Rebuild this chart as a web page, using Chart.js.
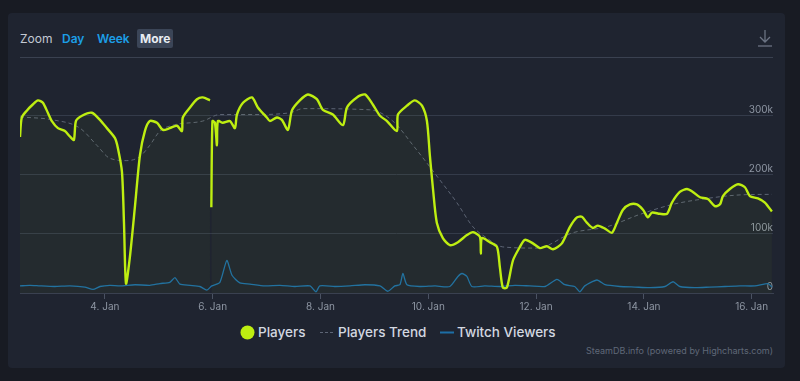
<!DOCTYPE html>
<html>
<head>
<meta charset="utf-8">
<script src="https://cdn.jsdelivr.net/npm/chart.js@4/dist/chart.umd.min.js"></script>
<style>
  html,body{margin:0;padding:0;width:800px;height:381px;overflow:hidden;background:#181b23;font-family:Inter,"Noto Sans",sans-serif;}
  #panel{position:absolute;left:8px;top:13px;width:777px;height:355px;background:#1f2430;border-radius:4px;}
  #wrap{position:absolute;left:0;top:0;width:800px;height:315px;}
  .t{position:absolute;white-space:nowrap;}
  #sep{position:absolute;left:20px;top:57px;width:753px;height:1px;background:#3a4150;}
  #more{position:absolute;left:137px;top:29px;width:36px;height:19px;background:#3b4557;border-radius:2px;}
  .leg{position:absolute;top:324px;font-size:13.5px;font-weight:500;color:#d3d8e0;white-space:nowrap;}
</style>
</head>
<body>
<div id="panel"></div>
<div class="t" style="left:20px;top:31px;font-size:12px;color:#c3c9d3;">Zoom</div>
<div class="t" style="left:62px;top:31px;font-size:12px;font-weight:600;color:#1c9ee6;">Day</div>
<div class="t" style="left:97px;top:31px;font-size:12px;font-weight:600;color:#1c9ee6;">Week</div>
<div id="more"></div>
<div class="t" style="left:140px;top:31px;font-size:12px;font-weight:700;color:#e8ecf2;">More</div>
<svg style="position:absolute;left:757px;top:29px" width="16" height="19" viewBox="0 0 16 19">
  <path d="M8 1 V13 M3 8 L8 13 L13 8" stroke="#6b7383" stroke-width="1.3" fill="none"/>
  <path d="M1 17 H15" stroke="#6b7383" stroke-width="1.3"/>
</svg>
<div id="sep"></div>
<div id="wrap"><canvas id="c" width="800" height="315"></canvas></div>

<svg style="position:absolute;left:240px;top:325px" width="15" height="15"><circle cx="7.5" cy="7.5" r="7" fill="#beee11"/></svg>
<div class="leg" style="left:258px;">Players</div>
<svg style="position:absolute;left:320px;top:331px" width="14" height="3"><path d="M0 1.5 H14" stroke="#5d6575" stroke-width="1.2" stroke-dasharray="3,2"/></svg>
<div class="leg" style="left:338px;">Players Trend</div>
<svg style="position:absolute;left:440px;top:331px" width="14" height="3"><path d="M0 1.5 H14" stroke="#1d6ea6" stroke-width="2"/></svg>
<div class="leg" style="left:457px;">Twitch Viewers</div>
<div class="t" style="right:27px;top:345px;font-size:9px;color:#5f6878;">SteamDB.info (powered by Highcharts.com)</div>

<script>
// time in hours since 1 Jan 00:00
const playerHours = [34.2,35.0,37.3,39.9,42.2,44.4,46.6,48.4,51.1,54.2,56.4,58.2,59.1,61.8,66.2,69.8,72.9,76.5,77.8,79.6,80.5,81.4,83.1,85.4,87.6,89.8,92.0,95.2,97.8,100.9,104.1,106.3,106.7,109.9,113.0,115.6,118.8,
  119.2,
  119.4,119.9,121.0,121.9,122.3,124.5,127.7,129.9,130.8,133.5,137.5,140.1,144.1,145.5,148.6,150.8,153.5,155.3,158.8,162.4,166.4,169.1,173.5,178.0,179.8,184.2,187.8,191.3,194.5,197.6,202.0,202.5,206.5,210.0,213.2,215.4,216.7,218.1,219.8,222.5,225.6,229.2,233.2,235.9,239.0,239.4,239.9,243.4,246.6,247.9,249.2,251.0,253.7,256.8,259.0,262.6,265.7,268.8,271.5,275.5,279.1,282.2,284.4,286.6,289.3,291.5,294.7,297.8,300.0,302.7,305.8,308.9,311.6,313.8,315.6,319.1,322.3,324.5,328.0,331.2,333.8,337.0,340.5,343.6,345.9,347.2,350.3,353.9,357.0,359.2,362.8,365.9,369.0];
const players = [264000,297000,309000,319000,326000,322000,305000,291000,279000,274000,265000,259000,291000,300000,305000,293000,279000,262000,245000,205000,119000,16000,60000,147000,233000,274000,291000,288000,276000,279000,283000,274000,297000,314000,328000,331000,326000,
  null,
  145000,291000,288000,250000,291000,288000,291000,279000,302000,322000,331000,314000,297000,291000,297000,293000,276000,309000,326000,336000,328000,310000,302000,284000,314000,331000,336000,319000,300000,291000,274000,302000,317000,326000,317000,291000,233000,176000,119000,93000,81000,86000,98000,103000,95000,67000,93000,86000,78000,43000,9000,9000,55000,78000,90000,84000,76000,79000,74000,84000,112000,128000,129000,119000,110000,114000,109000,102000,119000,141000,150000,150000,141000,128000,136000,134000,134000,153000,171000,176000,171000,162000,159000,147000,150000,164000,176000,184000,179000,164000,160000,153000,138000];

const trendHours = [34.2,48.8,60.9,68.4,74.2,81.8,87.6,92.0,96.5,102.3,115.6,123.2,137.9,154.4,160.2,190.0,200.2,209.2,219.8,228.7,235.9,242.1,249.2,264.4,280.4,295.5,310.2,324.9,340.1,354.8,369.0];
const trend = [298000,293000,279000,250000,228000,224000,231000,250000,274000,284000,291000,302000,302000,305000,312000,310000,291000,250000,198000,153000,112000,93000,78000,76000,102000,112000,133000,150000,160000,166000,167000];

const twitchHours = [34.2,38.6,43.1,49.7,56.4,63.1,66.7,69.8,74.2,78.7,85.4,92.0,96.5,100.9,103.2,105.4,109.9,114.3,117.4,119.6,123.2,126.3,128.6,132.1,136.6,143.2,149.9,156.6,163.3,166.0,167.7,174.4,181.1,187.8,194.5,198.0,201.1,203.4,204.7,206.5,212.3,219.0,225.6,229.2,231.0,233.2,235.4,241.2,247.9,254.6,261.3,268.0,273.3,276.8,281.2,283.5,285.7,291.1,294.7,301.3,308.0,314.7,321.4,325.0,328.0,334.7,341.4,348.1,354.8,361.5,367.3,369.0];
const twitch = [12000,13000,12000,11000,12000,10000,6000,11000,13000,12000,14000,13000,16000,18000,26000,15000,13000,11000,5000,12000,18000,55000,30000,17000,15000,12000,13000,11000,12000,2000,12000,11000,12000,14000,12000,3000,12000,14000,33000,14000,11000,12000,11000,28000,33000,28000,11000,12000,11000,13000,12000,11000,23000,14000,11000,2000,12000,22000,14000,11000,10000,9000,11000,19000,11000,9000,10000,11000,12000,12000,16000,10000];

const xTicks = [72,120,168,216,264,312,360];
const yTicks = [0,100000,200000,300000];
const yTickLabels = ["0","100k","200k","300k"];
const monthName = "Jan";

const pts = (h, v) => h.map((x, i) => ({x: x, y: v[i]}));

new Chart(document.getElementById('c'), {
  type: 'line',
  data: {
    datasets: [
      {label:'Twitch Viewers', data: pts(twitchHours, twitch), borderColor:'#1d6ea6', borderWidth:1.3, pointRadius:0, tension:0.2, order:3},
      {label:'Players Trend', data: pts(trendHours, trend), borderColor:'#5d6575', borderWidth:1, borderDash:[4,3], pointRadius:0, cubicInterpolationMode:'monotone', order:2},
      {label:'Players', data: pts(playerHours, players), borderColor:'#beee11', borderWidth:2.4, pointRadius:0, tension:0.25, spanGaps:false, fill:'origin', backgroundColor:'rgba(190,238,17,0.04)', order:1}
    ]
  },
  options: {
    responsive:false, animation:false, maintainAspectRatio:false,
    layout:{padding:{left:20, right:27, top:59, bottom:0}},
    plugins:{legend:{display:false}, tooltip:{enabled:false}},
    scales:{
      x:{type:'linear', min:34.2, max:369.5,
        afterBuildTicks:(s)=>{s.ticks = xTicks.map(v=>({value:v}));},
        ticks:{color:'#8e96a3', font:{size:10, family:'Inter'}, padding:2, maxRotation:0, autoSkip:false,
          callback:(v)=> (1 + Math.floor(v/24)) + '. ' + monthName},
        grid:{drawOnChartArea:false, color:'#4a5262', tickLength:6},
        border:{display:true, color:'#3a4150'}
      },
      y:{position:'right', min:0, max:396000,
        afterBuildTicks:(s)=>{s.ticks = yTicks.map(v=>({value:v}));},
        afterFit:(s)=>{s.width = 0;},
        ticks:{mirror:true, color:'#8e96a3', font:{size:10, family:'Inter'}, padding:0, labelOffset:-6,
          callback:(v)=> yTickLabels[yTicks.indexOf(v)]},
        grid:{color:'#343b4a', drawTicks:false},
        border:{display:false}
      }
    }
  }
});
</script>
</body>
</html>
